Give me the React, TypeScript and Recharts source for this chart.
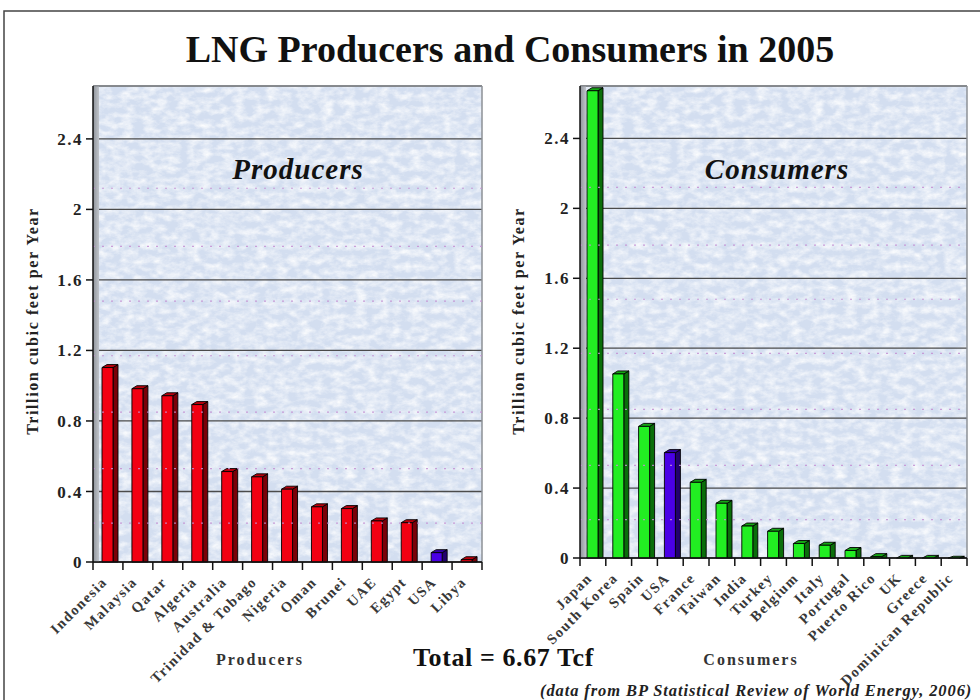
import React from 'react';
import { BarChart, Bar, XAxis, YAxis, CartesianGrid, Cell, Customized, ReferenceLine } from 'recharts';

// LNG exporters, 2005 (trillion cubic feet per year)
const producerNames = ['Indonesia', 'Malaysia', 'Qatar', 'Algeria', 'Australia', 'Trinidad & Tobago', 'Nigeria', 'Oman', 'Brunei', 'UAE', 'Egypt', 'USA', 'Libya'];
const producerValues = [1.12, 1.0, 0.96, 0.91, 0.53, 0.5, 0.43, 0.33, 0.32, 0.25, 0.24, 0.07, 0.03];

// LNG importers, 2005 (trillion cubic feet per year)
const consumerNames = ['Japan', 'South Korea', 'Spain', 'USA', 'France', 'Taiwan', 'India', 'Turkey', 'Belgium', 'Italy', 'Portugal', 'Puerto Rico', 'UK', 'Greece', 'Dominican Republic'];
const consumerValues = [2.69, 1.07, 0.77, 0.62, 0.45, 0.33, 0.2, 0.17, 0.1, 0.09, 0.06, 0.025, 0.015, 0.015, 0.01];

const yTicks = [0, 0.4, 0.8, 1.2, 1.6, 2, 2.4];
const minorLines = [0.22, 0.53, 0.85, 1.17, 1.48, 1.79, 2.12];
const highlight = 'USA';

const producers = producerNames.map((name, i) => ({ name, value: producerValues[i] }));
const consumers = consumerNames.map((name, i) => ({ name, value: consumerValues[i] }));

const SERIF = '"Liberation Serif", "Times New Roman", serif';

const palettes: Record<string, { front: string; side: string; top: string }> = {
  red: { front: '#f20012', side: '#7a0008', top: '#b8000c' },
  green: { front: '#22ee22', side: '#0a6e0a', top: '#15a515' },
  blue: { front: '#4a00e6', side: '#22006e', top: '#3300a8' },
};

const makeBar3D = (base: string) => (props: any) => {
  const { x, y, width, height, payload } = props;
  if (height == null || isNaN(height)) return null;
  const pal = payload && payload.name === highlight ? palettes.blue : palettes[base];
  const d = 5;
  const t = 3;
  const bottom = y + height;
  const fy = Math.min(y + t, bottom);
  return (
    <g stroke="#000" strokeWidth={0.9} strokeLinejoin="round">
      <polygon points={`${x + width},${fy} ${x + width + d},${y} ${x + width + d},${bottom} ${x + width},${bottom}`} fill={pal.side} />
      <polygon points={`${x},${fy} ${x + d},${y} ${x + width + d},${y} ${x + width},${fy}`} fill={pal.top} />
      <rect x={x} y={fy} width={width} height={Math.max(bottom - fy, 0)} fill={pal.front} />
    </g>
  );
};

const XTick = (props: any) => {
  const { x, y, payload, bw, last } = props;
  const left = x - bw / 2;
  return (
    <g>
      <line x1={left} y1={y} x2={left} y2={y + 8} stroke="#111" strokeWidth={1.5} />
      {payload.value === last && <line x1={x + bw / 2} y1={y} x2={x + bw / 2} y2={y + 8} stroke="#111" strokeWidth={1.5} />}
      <text
        transform={`translate(${x},${y + 21}) rotate(-45)`}
        textAnchor="end"
        fontFamily={SERIF}
        fontWeight="bold"
        fontSize={14.5}
        letterSpacing={1.4}
        fill="#383838"
      >
        {payload.value}
      </text>
    </g>
  );
};

const Wall = ({ left, top, height, right }: any) => (
  <g>
    <rect x={left} y={top} width={6} height={height} fill="url(#wallGrad)" />
    <line x1={left} y1={top} x2={right} y2={top} stroke="#8c9096" strokeWidth={1.5} />
    <line x1={right} y1={top} x2={right} y2={top + height} stroke="#8c9096" strokeWidth={1.5} />
  </g>
);

const yTickStyle = { fontFamily: SERIF, fontWeight: 'bold', fontSize: 17, fill: '#222', letterSpacing: 1.5 } as any;

function Panel({ data, base, margin, plot }: any) {
  const n = data.length;
  const bw = (plot.right - plot.left) / n;
  const Shape = makeBar3D(base);
  return (
    <BarChart width={490} height={700} data={data} margin={margin} barCategoryGap={0}>
      <CartesianGrid vertical={false} stroke="#4b4b4b" strokeWidth={1.3} fill="url(#paper)" fillOpacity={1} />
      {minorLines.map((v) => (
        <ReferenceLine key={v} y={v} stroke="#c48fd2" strokeDasharray="2 7" strokeWidth={1.2} strokeOpacity={0.85} />
      ))}
      <Customized component={<Wall left={plot.left} right={plot.right} top={plot.top} height={plot.bottom - plot.top} />} />
      <XAxis
        dataKey="name"
        interval={0}
        tickLine={false}
        tickSize={0}
        tickMargin={0}
        height={100}
        axisLine={{ stroke: '#111', strokeWidth: 1.5 }}
        tick={<XTick bw={bw} last={data[n - 1].name} />}
      />
      <YAxis
        domain={[0, 2.7]}
        ticks={yTicks}
        width={60}
        tickSize={7}
        tickMargin={3}
        axisLine={{ stroke: '#111', strokeWidth: 1.5 }}
        tickLine={{ stroke: '#111', strokeWidth: 1.5 }}
        tick={yTickStyle}
      />
      <Bar dataKey="value" barSize={11} isAnimationActive={false} shape={Shape}>
        {data.map((d: any) => (
          <Cell key={d.name} fill={d.name === highlight ? palettes.blue.front : palettes[base].front} />
        ))}
      </Bar>
    </BarChart>
  );
}

export default function App() {
  return (
    <div style={{ position: 'absolute', left: 0, top: 0, width: 980, height: 700, background: '#fff', overflow: 'hidden' }}>
      <svg width={0} height={0} style={{ position: 'absolute' }}>
        <defs>
          <filter id="mottle" x="0" y="0" width="100%" height="100%">
            <feTurbulence type="fractalNoise" baseFrequency="0.09 0.14" numOctaves={4} seed={11} />
            <feColorMatrix type="matrix" values="0 0 0 0 1  0 0 0 0 1  0 0 0 0 1  1.6 0 0 0 -0.55" />
          </filter>
          <pattern id="paper" patternUnits="userSpaceOnUse" width={490} height={700}>
            <rect width={490} height={700} fill="#d3def0" />
            <rect width={490} height={700} fill="#fff" filter="url(#mottle)" />
          </pattern>
          <linearGradient id="wallGrad" x1="0" x2="1" y1="0" y2="0">
            <stop offset="0" stopColor="#8f949b" />
            <stop offset="1" stopColor="#bfc3c9" />
          </linearGradient>
        </defs>
      </svg>

      <div style={{ position: 'absolute', left: 0, top: 0 }}>
        <Panel
          data={producers}
          base="red"
          margin={{ top: 86, right: 8, bottom: 38, left: 33 }}
          plot={{ left: 93, right: 482, top: 86, bottom: 562 }}
        />
      </div>
      <div style={{ position: 'absolute', left: 490, top: 0 }}>
        <Panel
          data={consumers}
          base="green"
          margin={{ top: 86, right: 13, bottom: 42, left: 30 }}
          plot={{ left: 90, right: 477, top: 86, bottom: 558 }}
        />
      </div>

      <svg width={980} height={700} style={{ position: 'absolute', left: 0, top: 0, pointerEvents: 'none' }}>
        <path d="M4,704 L4,11 L984,11" fill="none" stroke="#444" strokeWidth={1.5} />
        <text x={510} y={62} textAnchor="middle" fontFamily={SERIF} fontWeight="bold" fontSize={38} fill="#111">
          LNG Producers and Consumers in 2005
        </text>
        <text x={298} y={179} textAnchor="middle" fontFamily={SERIF} fontStyle="italic" fontWeight="bold" fontSize={29} letterSpacing={1} fill="#111">
          Producers
        </text>
        <text x={777} y={179} textAnchor="middle" fontFamily={SERIF} fontStyle="italic" fontWeight="bold" fontSize={29} letterSpacing={1} fill="#111">
          Consumers
        </text>
        <text transform="translate(38,321) rotate(-90)" textAnchor="middle" fontFamily={SERIF} fontWeight="bold" fontSize={16} letterSpacing={1.6} fill="#222">
          Trillion cubic feet per Year
        </text>
        <text transform="translate(524,321) rotate(-90)" textAnchor="middle" fontFamily={SERIF} fontWeight="bold" fontSize={16} letterSpacing={1.6} fill="#222">
          Trillion cubic feet per Year
        </text>
        <text x={260} y={665} textAnchor="middle" fontFamily={SERIF} fontWeight="bold" fontSize={16} letterSpacing={2} fill="#333">
          Producers
        </text>
        <text x={751} y={665} textAnchor="middle" fontFamily={SERIF} fontWeight="bold" fontSize={16} letterSpacing={2} fill="#333">
          Consumers
        </text>
        <text x={413} y={666} fontFamily={SERIF} fontWeight="bold" fontSize={26} letterSpacing={0.6} fill="#111">
          Total = 6.67 Tcf
        </text>
        <text x={540} y={696} fontFamily={SERIF} fontStyle="italic" fontWeight="bold" fontSize={16.5} letterSpacing={0.9} fill="#222">
          (data from BP Statistical Review of World Energy, 2006)
        </text>
      </svg>
    </div>
  );
}
